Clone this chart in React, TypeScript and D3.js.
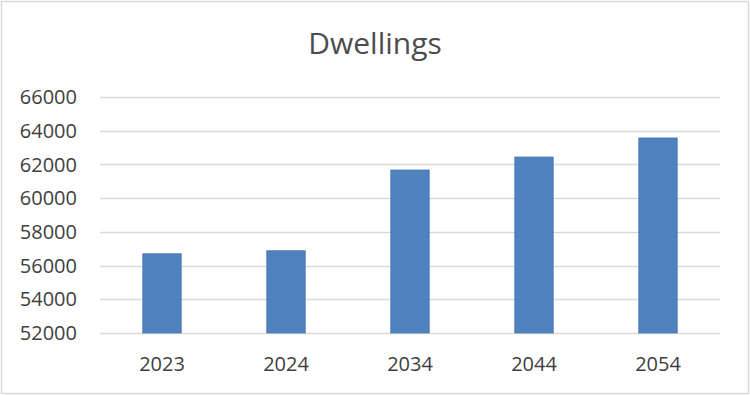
import React, { useEffect, useRef } from 'react';
import * as d3 from 'd3';

const years = ['2023', '2024', '2034', '2044', '2054'];
const dwellings = [56700, 56880, 61670, 62440, 63570];
const yTicks = [52000, 54000, 56000, 58000, 60000, 62000, 64000, 66000];

const W = 750;
const H = 395;
const margin = { top: 97, right: 30, bottom: 62, left: 100 };
const FONT = '"Open Sans", sans-serif';

export default function App() {
  const ref = useRef<SVGSVGElement>(null);

  useEffect(() => {
    const svg = d3.select(ref.current);
    svg.selectAll('*').remove();

    const innerW = W - margin.left - margin.right;
    const innerH = H - margin.top - margin.bottom;

    // chart frame
    svg.append('rect')
      .attr('x', 1.5).attr('y', 1.5)
      .attr('width', W - 3).attr('height', H - 3)
      .attr('fill', '#fff')
      .attr('stroke', '#d9d9d9')
      .attr('stroke-width', 1.5);

    svg.append('text')
      .attr('x', 375).attr('y', 54)
      .attr('text-anchor', 'middle')
      .attr('font-family', FONT)
      .attr('font-size', 30)
      .attr('fill', '#4d4d4d')
      .text('Dwellings');

    const x = d3.scaleBand().domain(years).range([0, innerW]).paddingInner(0.69).paddingOuter(0.345);
    const y = d3.scaleLinear().domain([52000, 66000]).range([innerH, 0]);

    const g = svg.append('g').attr('transform', `translate(${margin.left},${margin.top})`);

    // gridlines
    g.selectAll('.grid')
      .data(yTicks)
      .enter()
      .append('line')
      .attr('x1', 0).attr('x2', innerW)
      .attr('y1', (d) => Math.round(y(d)) + 0.5)
      .attr('y2', (d) => Math.round(y(d)) + 0.5)
      .attr('stroke', '#d9d9d9')
      .attr('stroke-width', 1.5);

    // y labels
    g.selectAll('.ylab')
      .data(yTicks)
      .enter()
      .append('text')
      .attr('x', -23)
      .attr('y', (d) => y(d))
      .attr('dy', '0.36em')
      .attr('text-anchor', 'end')
      .attr('font-family', FONT)
      .attr('font-size', 20)
      .attr('fill', '#404040')
      .text((d) => d);

    // bars
    g.selectAll('.bar')
      .data(dwellings)
      .enter()
      .append('rect')
      .attr('x', (d, i) => x(years[i]) as number)
      .attr('width', x.bandwidth())
      .attr('y', (d) => y(d))
      .attr('height', (d) => innerH - y(d))
      .attr('fill', '#4f81bd')
      .attr('stroke', '#4a7ab5')
      .attr('stroke-width', 0.8);

    // x labels
    g.selectAll('.xlab')
      .data(years)
      .enter()
      .append('text')
      .attr('x', (d) => (x(d) as number) + x.bandwidth() / 2)
      .attr('y', innerH + 38)
      .attr('text-anchor', 'middle')
      .attr('font-family', FONT)
      .attr('font-size', 20)
      .attr('fill', '#404040')
      .text((d) => d);
  }, []);

  return (
    <svg ref={ref} width={W} height={H} style={{ position: 'absolute', left: 0, top: 0 }} />
  );
}
